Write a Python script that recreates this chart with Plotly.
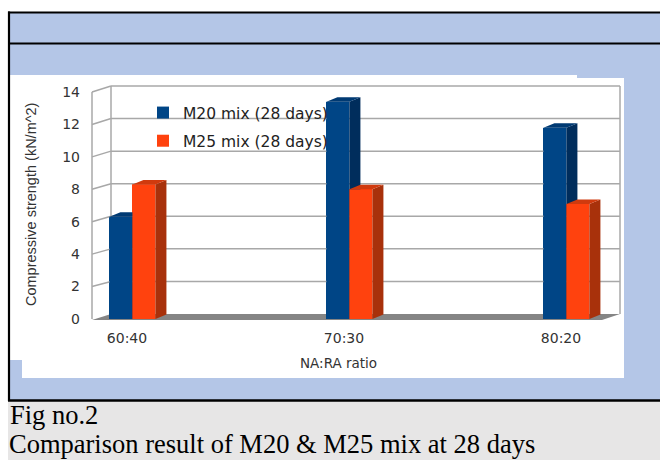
import plotly.graph_objects as go

# ---------------- data ----------------
categories = ["60:40", "70:30", "80:20"]
m20_values = [6.3, 13.4, 11.8]
m25_values = [8.3, 8.0, 7.1]
series_names = ["M20 mix (28 days)", "M25 mix (28 days)"]
y_tick_values = [0, 2, 4, 6, 8, 10, 12, 14]
y_title = "Compressive strength (kN/m^2)"
x_title = "NA:RA ratio"
caption_lines = ["Fig no.2", "Comparison result of M20 & M25 mix at 28 days"]

# ---------------- geometry (pixels) ----------------
W, H = 660, 460


def px(x):
    return x / W


def py(y):
    return 1 - y / H


FRONT_X0, FRONT_TOP, FRONT_BOT = 92, 92, 319
BACK_X0, BACK_X1, BACK_TOP, BACK_BOT = 111, 620, 86, 314
CAT0, CATSTEP = 127, 217
YMAX = 14

unit_front = (FRONT_BOT - FRONT_TOP) / YMAX
unit_back = (BACK_BOT - BACK_TOP) / YMAX

# front-plane axes, extended a bit so the back wall fits inside the plot area
DOM_X0, DOM_X1 = 85, 628
Y_LO, Y_HI = -0.4, 14.8
x_range = [(DOM_X0 - CAT0) / CATSTEP, (DOM_X1 - CAT0) / CATSTEP]
dom_y_bot = FRONT_BOT - Y_LO * unit_front
dom_y_top = FRONT_BOT - Y_HI * unit_front

BAR_W = 23 / CATSTEP
OFFSETS = [-0.081, 0.025]
DX = 11 / CATSTEP
DY = 4.5 / unit_front

COLORS = [
    dict(front="#004586", side="#002d5c", top="#003a73"),
    dict(front="#ff420e", side="#a8310b", top="#d03a0e"),
]
GRID = "#a8a8a8"


def px_to_xu(x):
    return (x - CAT0) / CATSTEP


def py_to_yu(y):
    return (FRONT_BOT - y) / unit_front


def back_py(v):
    return BACK_BOT - v * unit_back


fig = go.Figure()
xpos = list(range(len(categories)))

# bars (front faces, also give the legend entries)
for s, vals in enumerate([m20_values, m25_values]):
    fig.add_trace(go.Bar(
        x=xpos, y=vals, width=BAR_W, offset=OFFSETS[s],
        name=series_names[s], legendgroup=f"g{s}",
        marker=dict(color=COLORS[s]["front"], line=dict(width=0)),
        hoverinfo="skip",
    ))

# wall grid: back wall lines + left wall slants, in the front axis units
gx, gy = [], []
for v in y_tick_values[1:]:
    gx += [px_to_xu(BACK_X0), px_to_xu(BACK_X1), None]
    gy += [py_to_yu(back_py(v)), py_to_yu(back_py(v)), None]
    gx += [px_to_xu(FRONT_X0), px_to_xu(BACK_X0), None]
    gy += [v, py_to_yu(back_py(v)), None]
for xx in (BACK_X0, BACK_X1):
    gx += [px_to_xu(xx), px_to_xu(xx), None]
    gy += [py_to_yu(back_py(0)), py_to_yu(back_py(YMAX)), None]
gx += [px_to_xu(FRONT_X0), px_to_xu(FRONT_X0), None]
gy += [0, YMAX, None]
fig.add_trace(go.Scatter(x=gx, y=gy, mode="lines", showlegend=False,
                         line=dict(color=GRID, width=1.5), hoverinfo="skip"))


def poly_trace(xs, ys, color):
    return go.Scatter(
        x=xs, y=ys, mode="lines", fill="toself", fillcolor=color,
        line=dict(width=0, color=color), showlegend=False,
        hoverinfo="skip",
    )


# 3D bar faces drawn above the grid
for s, vals in enumerate([m20_values, m25_values]):
    fx, fy, sx, sy, tx, ty = [], [], [], [], [], []
    for i, v in enumerate(vals):
        xl = i + OFFSETS[s]
        xr = xl + BAR_W
        fx += [xl, xr, xr, xl, xl, None]
        fy += [0, 0, v, v, 0, None]
        sx += [xr, xr + DX, xr + DX, xr, xr, None]
        sy += [0, DY, v + DY, v, 0, None]
        tx += [xl, xl + DX, xr + DX, xr, xl, None]
        ty += [v, v + DY, v + DY, v, v, None]
    fig.add_trace(poly_trace(fx, fy, COLORS[s]["front"]))
    fig.add_trace(poly_trace(sx, sy, COLORS[s]["side"]))
    fig.add_trace(poly_trace(tx, ty, COLORS[s]["top"]))

# ---------------- shapes ----------------
shapes = []


def rect(x0, y0, x1, y1, color, layer="below"):
    shapes.append(dict(type="rect", xref="paper", yref="paper",
                       x0=px(x0), x1=px(x1), y0=py(y1), y1=py(y0),
                       fillcolor=color, line=dict(width=0), layer=layer))


def seg(x0, y0, x1, y1, color, width, layer="below"):
    shapes.append(dict(type="line", xref="paper", yref="paper",
                       x0=px(x0), x1=px(x1), y0=py(y0), y1=py(y1),
                       line=dict(color=color, width=width), layer=layer))


BLUE_BG = "#b4c6e7"
GRAY_BG = "#e7e6e6"
rect(8, 12, 660, 400, BLUE_BG)
rect(8, 400, 660, 460, GRAY_BG)
rect(8, 75, 577, 360, "#ffffff")
rect(22, 78, 624, 378, "#ffffff")

# floor
shapes.append(dict(
    type="path", xref="paper", yref="paper", layer="below",
    path=(f"M{px(FRONT_X0)},{py(FRONT_BOT + 1)} L{px(602)},{py(FRONT_BOT + 1)} "
          f"L{px(BACK_X1)},{py(BACK_BOT)} L{px(BACK_X0)},{py(BACK_BOT)} Z"),
    fillcolor="#858585", line=dict(width=0),
))

# table borders
seg(8, 12.5, 660, 12.5, "#000000", 2.2, "above")
seg(8, 43.5, 660, 43.5, "#000000", 2.2, "above")
seg(8, 400.5, 660, 400.5, "#000000", 2.4, "above")
seg(9, 11.5, 9, 401, "#000000", 2.2, "above")

# ---------------- annotations ----------------
annotations = [
    dict(text=y_title, x=px(31), y=py(205), xref="paper", yref="paper",
         textangle=-90, showarrow=False, xanchor="center", yanchor="middle",
         font=dict(family="Liberation Sans", size=14.5, color="#333333")),
    dict(text=x_title, x=px(338), y=py(363), xref="paper", yref="paper",
         showarrow=False, xanchor="center", yanchor="middle",
         font=dict(family="DejaVu Sans", size=13.5, color="#333333")),
    dict(text=caption_lines[0], x=px(8), y=py(415), xref="paper", yref="paper",
         showarrow=False, xanchor="left", yanchor="middle",
         font=dict(family="Liberation Serif", size=26.5, color="#000000")),
    dict(text=caption_lines[1], x=px(8), y=0, xref="paper", yref="paper",
         showarrow=False, xanchor="left", yanchor="bottom", borderpad=0,
         font=dict(family="Liberation Serif", size=26.5, color="#000000")),
]

tick_font = dict(family="DejaVu Sans", size=14, color="#333333")

fig.update_layout(
    width=W, height=H, autosize=False,
    margin=dict(l=0, r=0, t=0, b=0, pad=0),
    paper_bgcolor="#ffffff", plot_bgcolor="rgba(0,0,0,0)",
    barmode="overlay", bargap=0,
    showlegend=True,
    legend=dict(x=px(143), y=py(96), xanchor="left", yanchor="top",
                bgcolor="rgba(0,0,0,0)", borderwidth=0,
                font=dict(family="DejaVu Sans", size=15.5, color="#222222"),
                tracegroupgap=5, itemwidth=30),
    shapes=shapes, annotations=annotations,
    xaxis=dict(domain=[px(DOM_X0), px(DOM_X1)], range=x_range, anchor="y",
               tickvals=xpos, ticktext=categories, showgrid=False,
               zeroline=False, showline=False, ticks="",
               tickfont=tick_font, ticklabelstandoff=int(10 - (dom_y_bot - FRONT_BOT)),
               fixedrange=True),
    yaxis=dict(domain=[py(dom_y_bot), py(dom_y_top)], range=[Y_LO, Y_HI], anchor="x",
               tickvals=y_tick_values, showgrid=False, zeroline=False,
               showline=False, ticks="", tickfont=tick_font,
               ticklabelstandoff=int(11 - (FRONT_X0 - DOM_X0)), fixedrange=True),
)

fig.write_html("out.html", config={"displayModeBar": False, "staticPlot": True})
